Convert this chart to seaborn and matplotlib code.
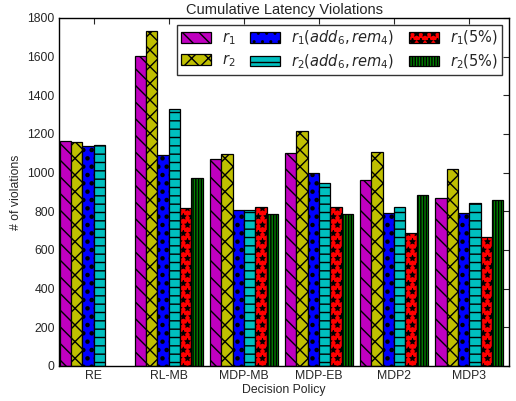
import numpy as np
import pandas as pd
import matplotlib
matplotlib.use("Agg")
import matplotlib.pyplot as plt
from matplotlib.patches import Patch
import seaborn as sns

policies = ['RE', 'RL-MB', 'MDP-MB', 'MDP-EB', 'MDP2', 'MDP3']
series_labels = [r'$r_1$', r'$r_2$', r'$r_1(add_6, rem_4)$',
                 r'$r_2(add_6, rem_4)$', r'$r_1(5\%)$', r'$r_2(5\%)$']
r1 = [1164, 1605, 1071, 1100, 962, 869]
r2 = [1157, 1735, 1097, 1214, 1109, 1021]
r1_add = [1140, 1092, 805, 997, 793, 793]
r2_add = [1145, 1328, 805, 948, 824, 842]
r1_5 = [np.nan, 819, 824, 824, 690, 666]
r2_5 = [np.nan, 971, 786, 786, 886, 860]
yticks = [0, 200, 400, 600, 800, 1000, 1200, 1400, 1600, 1800]

colors = ['#bf00bf', '#bfbf00', '#0000ff', '#00bfbf', '#ff0000', '#008000']
hatches = ['\\\\', 'xx', '..', '--', '**', '||||||']

all_series = [r1, r2, r1_add, r2_add, r1_5, r2_5]
rows = []
for lab, vals in zip(series_labels, all_series):
    for p, v in zip(policies, vals):
        if not np.isnan(v):
            rows.append({'policy': p, 'series': lab, 'violations': v})
df = pd.DataFrame(rows)

sns.set_style('white')
plt.rcParams['font.family'] = ['Liberation Sans', 'DejaVu Sans']
plt.rcParams['hatch.linewidth'] = 1.0

fig = plt.figure(figsize=(5.16, 4.01), dpi=100)
ax = fig.add_axes([59 / 516, 1 - 366 / 401, 450 / 516, 348 / 401])

sns.barplot(data=df, x='policy', y='violations', hue='series',
            order=policies, hue_order=series_labels, palette=colors,
            width=0.905, saturation=1, edgecolor='black', linewidth=0.9,
            legend=False, ax=ax, errorbar=None)


def style_bar(bar, h):
    bar.set_hatch(h)
    if hasattr(bar, 'set_hatch_linewidth'):
        if h == '..':
            bar.set_hatch_linewidth(2.0)
        elif h == '**':
            bar.set_hatch_linewidth(0.6)


for cont, h in zip(ax.containers, hatches):
    for bar in cont:
        style_bar(bar, h)

ax.set_xlim(-0.462, 5.529)
ax.set_ylim(0, 1800)
ax.set_yticks(yticks)
ax.set_yticklabels([str(t) for t in yticks])
ax.tick_params(axis='both', direction='in', top=True, right=True,
               length=4, width=0.8, labelsize=8.8, pad=3)
for s in ax.spines.values():
    s.set_visible(True)
    s.set_color('black')
    s.set_linewidth(1.0)

ax.set_title('Cumulative Latency Violations', fontsize=10.5, pad=3)
ax.set_xlabel('Decision Policy', fontsize=8.8, labelpad=1)
ax.set_ylabel('# of violations', fontsize=8.8, labelpad=4)

handles = []
for c, h, l in zip(colors, hatches, series_labels):
    p = Patch(facecolor=c, edgecolor='black', linewidth=0.9, label=l)
    style_bar(p, h)
    handles.append(p)
leg = ax.legend(handles=handles, loc='upper right', ncol=3, fontsize=10.5,
                frameon=True, fancybox=False, edgecolor='black',
                handlelength=2.05, handleheight=0.75, handletextpad=0.75,
                columnspacing=1.0, borderaxespad=0.45, labelspacing=0.35,
                borderpad=0.3)
leg.get_frame().set_linewidth(1.0)

fig.savefig('out.png', dpi=100)
